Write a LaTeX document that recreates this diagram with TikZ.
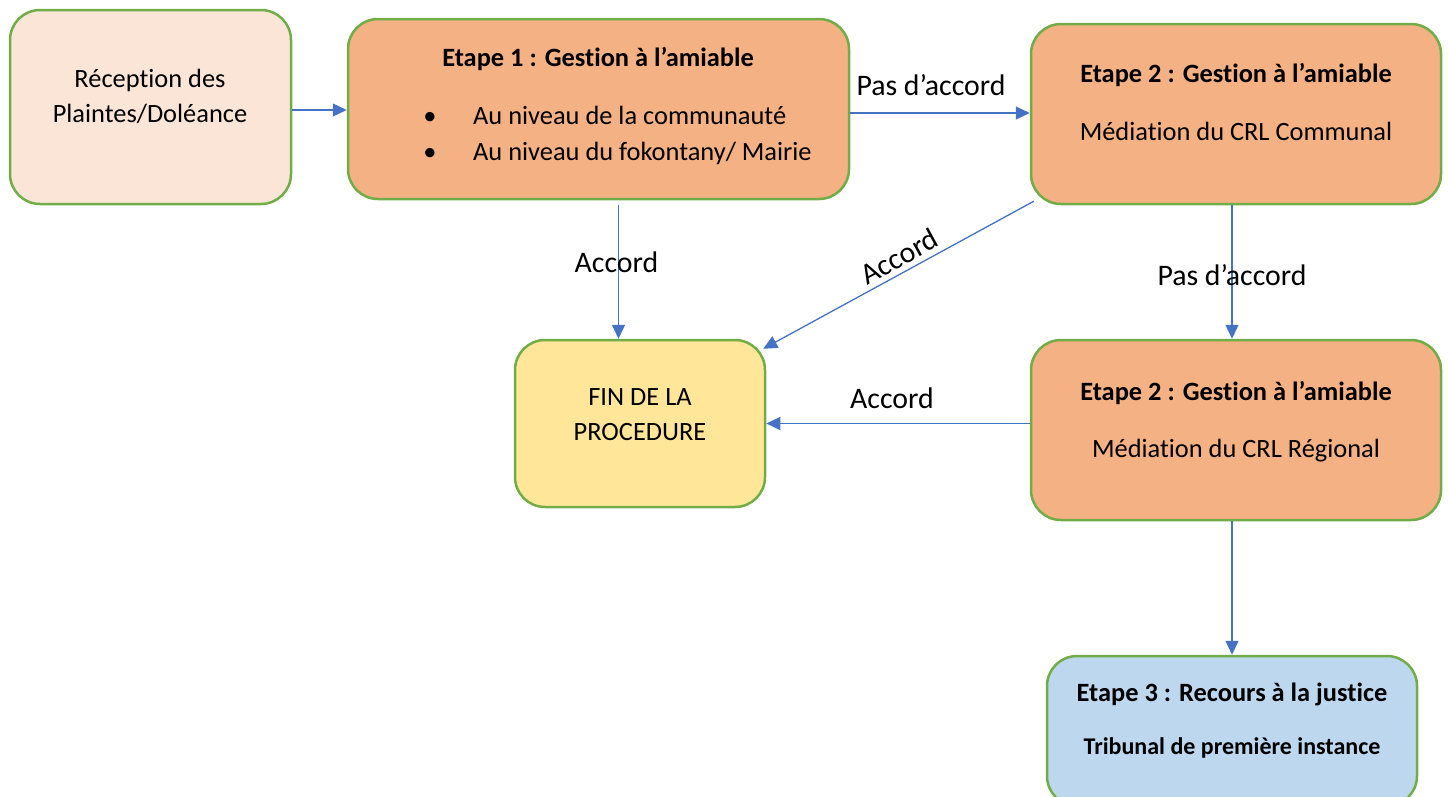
\documentclass[tikz,border=0pt]{standalone}
\usepackage{fontspec}
\setmainfont{Carlito}[Ligatures=NoCommon]
\usetikzlibrary{arrows.meta,positioning}
\definecolor{vert}{HTML}{70AD47}
\definecolor{bleu}{HTML}{4472C4}
\definecolor{peche}{HTML}{FBE5D6}
\definecolor{orange}{HTML}{F4B183}
\definecolor{jaune}{HTML}{FFE699}
\definecolor{ciel}{HTML}{BDD7EE}
\begin{document}
\begin{tikzpicture}[
  x=1pt, y=-1pt,
  boite/.style = {draw=vert, line width=2.5pt, rounded corners=30pt, inner sep=0pt},
  fleche/.style = {-{Triangle[length=14pt,width=13pt]}, draw=bleu, line width=1.3pt},
  txt/.style = {font=\fontsize{26.4}{35}\selectfont, inner sep=0pt, anchor=base},
  titre/.style = {font=\bfseries\fontsize{26.4}{35}\selectfont, inner sep=0pt, anchor=base},
  etiq/.style = {font=\fontsize{29.8}{36}\selectfont, inner sep=0pt}]
  \useasboundingbox (0,0) rectangle (1448,796);

  % boites
  \node[boite, fill=peche, minimum width=281pt, minimum height=194pt] (rec) at (150.5,107) {};
  \node[boite, fill=orange, minimum width=501pt, minimum height=180pt] (e1) at (598.5,109) {};
  \node[boite, fill=orange, minimum width=410pt, minimum height=180pt] (e2a) at (1236,114) {};
  \node[boite, fill=jaune, minimum width=250pt, minimum height=167pt] (fin) at (640,423.5) {};
  \node[boite, fill=orange, minimum width=410pt, minimum height=180pt] (e2b) at (1236,430) {};
  \node[boite, fill=ciel, minimum width=370pt, minimum height=150pt] (e3) at (1232,731) {};

  % textes
  \node[txt] (rec1) at (150,87) {Réception des};
  \node[txt] (rec2) at (150,122) {Plaintes/Doléance};

  \node[titre] (e1t) at (598,66) {Etape 1 : Gestion à l’amiable};
  \node[txt] (e1b1) at (430,124) {•};
  \node[txt, anchor=base west] (e1l1) at (473,124) {Au niveau de la communauté};
  \node[txt] (e1b2) at (430,160) {•};
  \node[txt, anchor=base west] (e1l2) at (473,160) {Au niveau du fokontany/ Mairie};

  \node[titre] (e2at) at (1236,82) {Etape 2 : Gestion à l’amiable};
  \node[txt] (e2as) at (1236,140) {Médiation du CRL Communal};

  \node[txt] (fin1) at (640,405) {FIN DE LA};
  \node[txt] (fin2) at (640,440) {PROCEDURE};

  \node[titre] (e2bt) at (1236,400) {Etape 2 : Gestion à l’amiable};
  \node[txt] (e2bs) at (1236,457) {Médiation du CRL Régional};

  \node[titre] (e3t) at (1232,701) {Etape 3 : Recours à la justice};
  \node[titre, font=\bfseries\fontsize{24}{30}\selectfont] (e3s) at (1232,754) {Tribunal de première instance};

  % fleches
  \draw[fleche] ([yshift=-3pt]rec.east) -- ([yshift=-3pt]rec.east -| e1.west);
  \draw[fleche] ([yshift=-4pt]e1.east) -- ([yshift=-4pt]e1.east -| e2a.west)
    node[etiq, midway, above=17pt, xshift=-9pt] (l1) {Pas d’accord};
  \draw[fleche] ([xshift=20pt,yshift=-5pt]e1.south) -- ([xshift=20pt]e1.south |- fin.north)
    node[etiq, pos=0.43, xshift=-2pt] (l2) {Accord};
  \draw[fleche] ([xshift=4pt,yshift=4pt]e2a.south west) -- ([xshift=-3pt,yshift=-10pt]fin.north east)
    node[etiq, pos=0.47, sloped, above=5pt] (l3) {Accord};
  \draw[fleche] ([xshift=-4pt]e2a.south) -- ([xshift=-4pt]e2b.north)
    node[etiq, pos=0.52] (l4) {Pas d’accord};
  \draw[fleche] (e2b.west |- fin.east) -- (fin.east)
    node[etiq, midway, above=14pt, xshift=-6pt] (l5) {Accord};
  \draw[fleche] ([xshift=-4pt]e2b.south) -- (e3.north);

\end{tikzpicture}
\end{document}
